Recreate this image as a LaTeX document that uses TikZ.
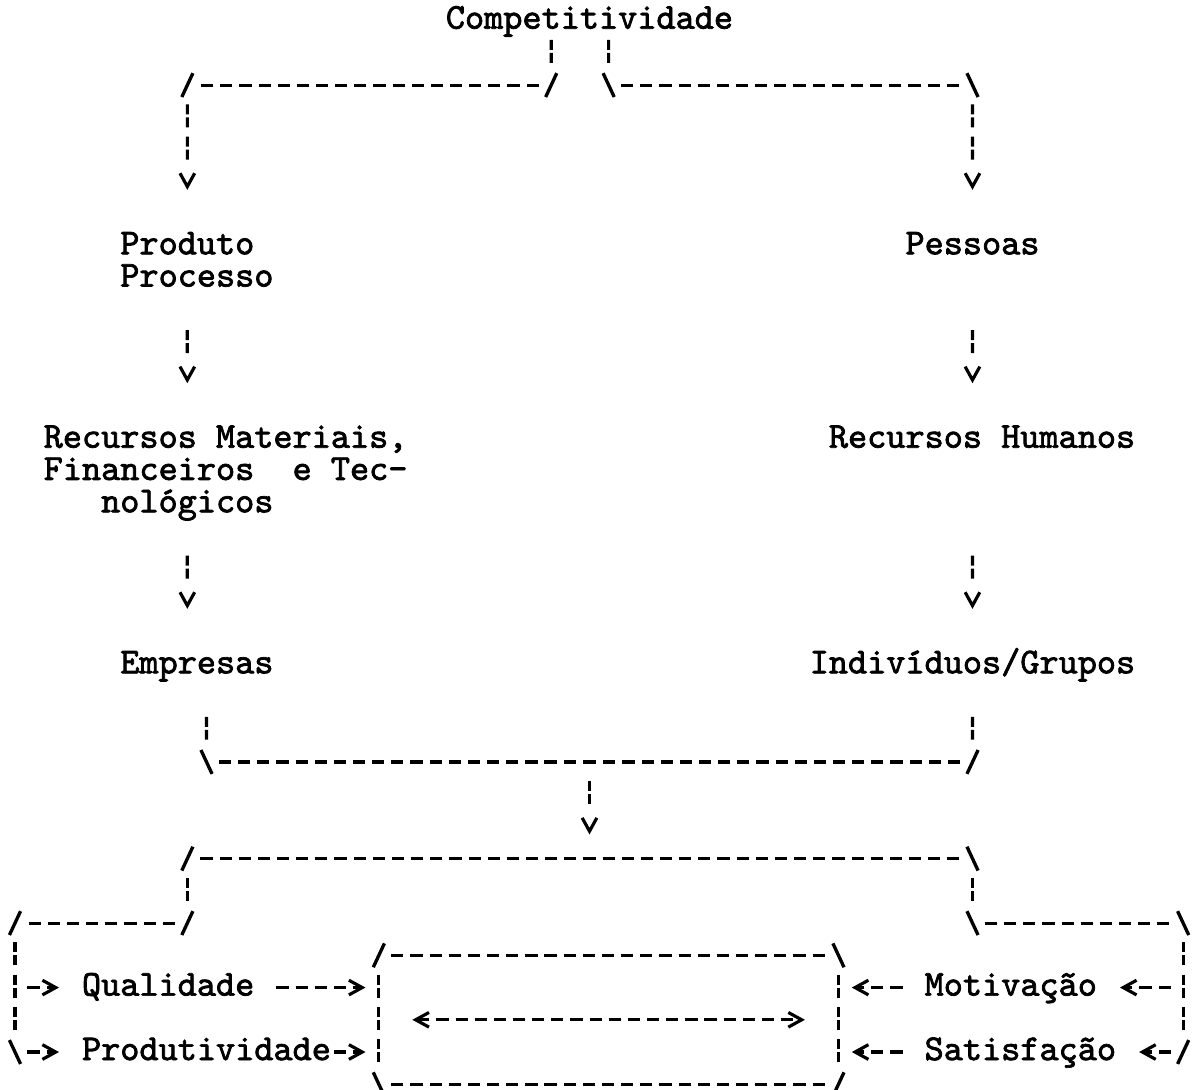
\documentclass[tikz,border=0pt]{standalone}
\usepackage{fontspec}
\usepackage{tikz}
\usetikzlibrary{
  arrows.meta,
  calc,
  positioning
}
\newfontfamily\typer{lmmono10-regular.otf}[FakeBold=2]
\newcommand{\stacked}[1]{\begin{tabular}[t]{@{}l@{}}#1\end{tabular}}

\begin{document}
\begin{tikzpicture}[
      x=5.745pt, y=-9.669pt,
      entry/.style={
         inner sep=0pt,
         outer sep=0pt,
         anchor=base west,
         font=\typer\fontsize{10.94}{9.669}\selectfont
      },
      point/.style={coordinate},
      hbar/.style={line width=.95pt, dash pattern=on 3.65pt off 2.095pt},
      vbar/.style={line width=.95pt, dash pattern=on 3pt off .9pt on 3pt off 2.769pt},
      drop/.style={line width=.95pt, dash pattern=on 3pt off .9pt on 3pt off 40pt},
      drop two/.style={line width=.95pt,
         dash pattern=on 3pt off .9pt on 3pt off 2.769pt on 3pt off .9pt on 3pt off 40pt},
      slant/.style={line width=1pt},
      >={Straight Barb[length=4pt,width=4.4pt]}
    ]
    \useasboundingbox (-0.783,0) rectangle (61.88,33.788);
    % labels on the character grid (column, row)
    \node (comp)   [entry] at (22.5,.89)  {Competitividade};
    \node (prod)   [entry] at (5.5,7.89)  {\stacked{Produto\\Processo}};
    \node (pess)   [entry] at (46.5,7.89) {Pessoas};
    \node (mat)    [entry] at (1.5,13.89) {\stacked{Recursos Materiais,\\Financeiros~~e~Tec-\\~~~nológicos}};
    \node (rh)     [entry] at (42.5,13.89) {Recursos Humanos};
    \node (emp)    [entry] at (5.5,20.89) {Empresas};
    \node (ind)    [entry] at (41.5,20.89) {Indivíduos/Grupos};
    \node (qual)   [entry] at (3.5,30.89) {Qualidade};
    \node (produt) [entry] at (3.5,32.89) {Produtividade};
    \node (motiv)  [entry] at (47.5,30.89) {Motivação};
    \node (satis)  [entry] at (47.5,32.89) {Satisfação};
    \node (nucleo) [minimum width=137.88pt, minimum height=38.676pt,
                    inner sep=0pt, outer sep=0pt] at (31,31.64) {};
    % corners and junctions
    \node (c9)    [point] at (9,2.64) {};
    \node (c28)   [point] at (28,2.64) {};
    \node (c31)   [point] at (31,2.64) {};
    \node (c50)   [point] at (50,2.64) {};
    \node (m10)   [point] at (10,23.64) {};
    \node (merge) [point] at (30,23.64) {};
    \node (m50)   [point] at (50,23.64) {};
    \node (split) [point] at (30,26.64) {};
    \node (s9)    [point] at (9,26.64) {};
    \node (s50)   [point] at (50,26.64) {};
    \node (t0)    [point] at (0,28.64) {};
    \node (t9)    [point] at (9,28.64) {};
    \node (t50)   [point] at (50,28.64) {};
    \node (t61)   [point] at (61,28.64) {};
    \node (jq)    [point] at (0,30.64) {};
    \node (jm)    [point] at (61,30.64) {};
    \node (u0)    [point] at (0,32.64) {};
    \node (u61)   [point] at (61,32.64) {};

    % top split
    \draw[vbar, shorten >=6.67pt] ($(comp.base)+(-2,.35)$) -- (c28);
    \draw[hbar, shorten <=3.73pt, shorten >=3.73pt] (c28) -- (c9);
    \draw[drop two, ->, shorten <=5.8pt] (c9) -- ($(prod.base)+(-.5,-2)$);
    \draw[vbar, shorten >=6.67pt] ($(comp.base)+(1,.35)$) -- (c31);
    \draw[hbar, shorten <=3.73pt, shorten >=3.73pt] (c31) -- (c50);
    \draw[drop two, ->, shorten <=5.8pt] (c50) -- ($(pess.base)+(0,-2)$);
    % two columns
    \draw[drop, ->] ($(prod.base)+(-.5,2.35)$) -- ($(mat.base)+(-2,-2)$);
    \draw[drop, ->] ($(pess.base)+(0,2.35)$) -- ($(rh.base)+(-.5,-2)$);
    \draw[drop, ->] ($(mat.base)+(-2,3.35)$) -- ($(emp.base)+(-.5,-2)$);
    \draw[drop, ->] ($(rh.base)+(-.5,3.35)$) -- ($(ind.base)+(0,-2)$);
    % merge
    \draw[vbar, shorten >=6.67pt] ($(emp.base)+(.5,1.35)$) -- (m10);
    \draw[hbar, shorten <=3.73pt] (m10) -- (merge);
    \draw[vbar, shorten >=6.67pt] ($(ind.base)+(0,1.35)$) -- (m50);
    \draw[hbar, shorten <=3.73pt] (m50) -- (merge);
    \draw[drop, ->, shorten <=5.8pt, shorten >=7.25pt] (merge) -- (split);
    % split, left branch
    \draw[hbar, dash phase=1.825pt, shorten >=3.73pt] (split) -- (s9);
    \draw[vbar, shorten <=5.8pt, shorten >=6.67pt] (s9) -- (t9);
    \draw[hbar, shorten <=3.73pt, shorten >=3.73pt] (t9) -- (t0);
    \draw[vbar, shorten <=5.8pt, shorten >=6.67pt] (t0) -- (u0);
    \draw[hbar, ->, shorten <=3.73pt, shorten >=6.9pt] (jq) -- (jq -| qual.west);
    \draw[hbar, ->, shorten <=3.73pt, shorten >=6.9pt] (u0) -- (u0 -| produt.west);
    % split, right branch
    \draw[hbar, dash phase=1.825pt, shorten >=3.73pt] (split) -- (s50);
    \draw[vbar, shorten <=5.8pt, shorten >=6.67pt] (s50) -- (t50);
    \draw[hbar, shorten <=3.73pt, shorten >=3.73pt] (t50) -- (t61);
    \draw[vbar, shorten <=5.8pt, shorten >=6.67pt] (t61) -- (u61);
    \draw[hbar, ->, shorten <=3.73pt, shorten >=6.9pt] (jm) -- (jm -| motiv.east);
    \draw[hbar, ->, shorten <=3.73pt, shorten >=6.9pt] (u61) -- (u61 -| satis.east);
    % into the box
    \draw[hbar, ->, shorten >=4pt] ($(qual.base east)+(1.15,-.25)$) coordinate (q0) -- (q0 -| nucleo.west);
    \draw[hbar, ->, shorten >=4pt] ($(produt.base east)+(.15,-.25)$) coordinate (p0) -- (p0 -| nucleo.west);
    \draw[hbar, ->, shorten >=4pt] ($(motiv.base west)+(-1.15,-.25)$) coordinate (m0) -- (m0 -| nucleo.east);
    \draw[hbar, ->, shorten >=4pt] ($(satis.base west)+(-1.15,-.25)$) coordinate (s0) -- (s0 -| nucleo.east);
    % central box
    \draw[hbar, shorten <=3.73pt, shorten >=3.73pt] (nucleo.north west) -- (nucleo.north east);
    \draw[hbar, shorten <=3.73pt, shorten >=3.73pt] (nucleo.south west) -- (nucleo.south east);
    \draw[vbar, shorten <=5.8pt, shorten >=6.67pt] (nucleo.north west) -- (nucleo.south west);
    \draw[vbar, shorten <=5.8pt, shorten >=6.67pt] (nucleo.north east) -- (nucleo.south east);
    \draw[hbar, <->] ($(nucleo.center)+(-10.25,0)$) -- ($(nucleo.center)+(10.25,0)$);
    % slanted corner strokes
    \foreach \p in {c28,c9,m50,s9,t9,t0,u61,nucleo.north west,nucleo.south east}
      \draw[slant] ([shift={(-.29,.37)}]\p) -- ([shift={(.29,-.37)}]\p);
    \foreach \p in {c31,c50,m10,s50,t50,t61,u0,nucleo.north east,nucleo.south west}
      \draw[slant] ([shift={(-.29,-.37)}]\p) -- ([shift={(.29,.37)}]\p);
\end{tikzpicture}
\end{document}
